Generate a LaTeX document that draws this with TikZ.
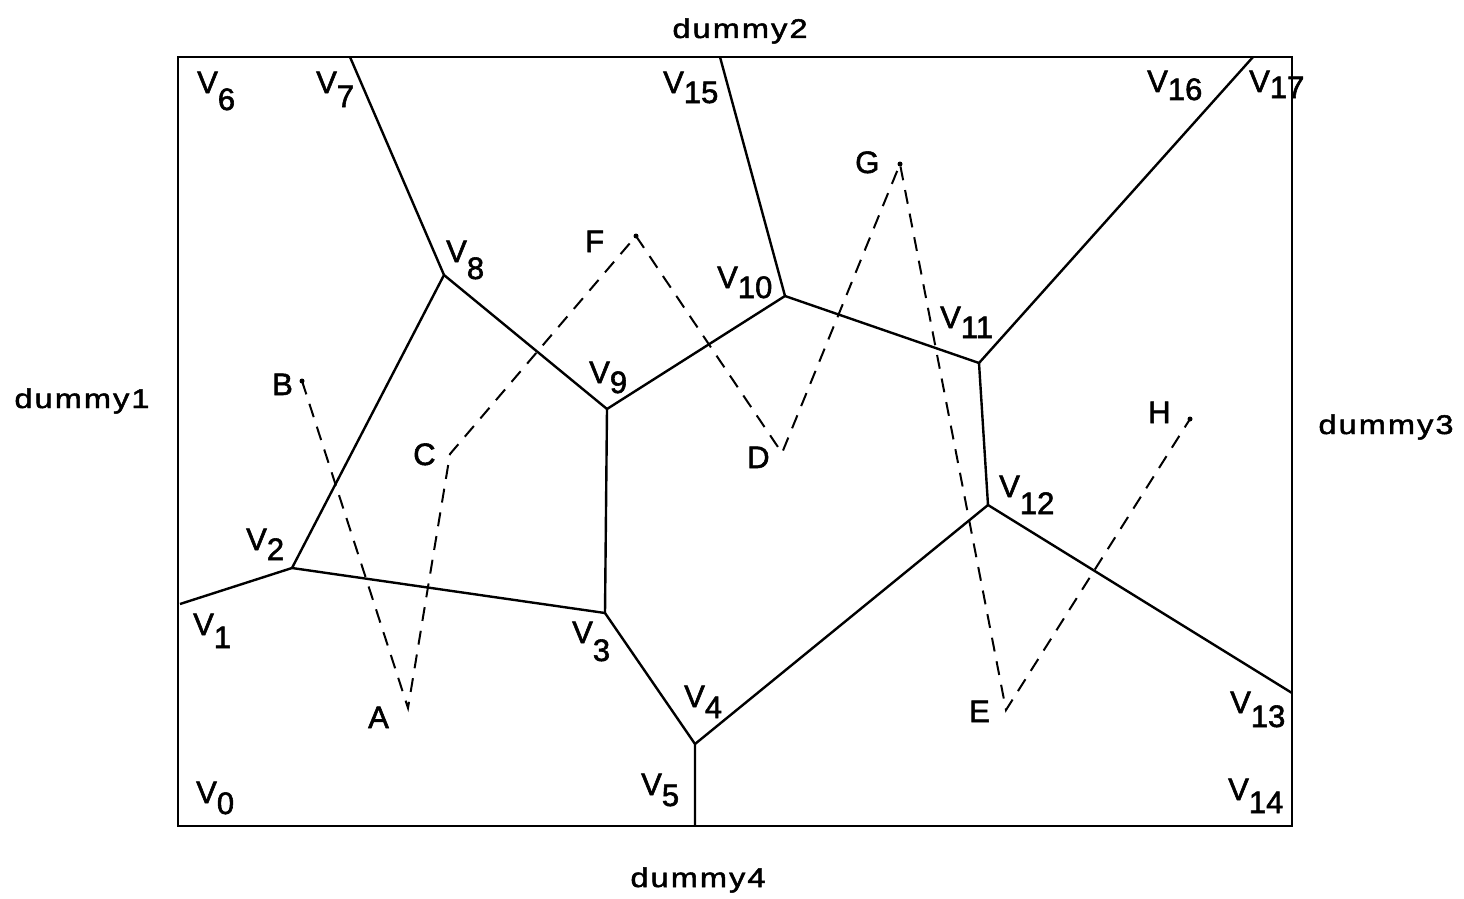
\documentclass[tikz,border=0pt]{standalone}
\usepackage{fontspec}
\setmainfont{Liberation Sans}[FakeBold=1.8]
\newfontfamily\dumfont[LetterSpace=8,FakeStretch=1.2,FakeBold=1.8]{Liberation Sans}
\newcommand\vlab[2][12]{V\raisebox{-#1pt}{#2}}
\begin{document}
\begin{tikzpicture}[x=1pt,y=-1pt,
  edge/.style={line width=2.4pt,line join=round},
  frame/.style={line width=2.2pt},
  dashline/.style={line width=2pt,dash pattern=on 14pt off 10pt},
  vtext/.style={anchor=base west,inner sep=0pt,font=\fontsize{31}{36}\selectfont},
  ptext/.style={anchor=base west,inner sep=0pt,font=\fontsize{31}{36}\selectfont},
  dtext/.style={anchor=base,inner sep=0pt,font=\dumfont\fontsize{27}{30}\selectfont},
  pdot/.style={fill=black,circle,inner sep=0pt,minimum size=5pt}]
\useasboundingbox (0,0) rectangle (1464,899);
% frame
\draw[frame] (178,57) rectangle (1292,826);
% Voronoi vertices
\coordinate (v1) at (180,604);
\coordinate (v2) at (292,568);
\coordinate (v3) at (605,613);
\coordinate (v4) at (695,744);
\coordinate (v5) at (695,826);
\coordinate (v7) at (350,57);
\coordinate (v8) at (444,275);
\coordinate (v9) at (607,409);
\coordinate (v10) at (785,296);
\coordinate (v11) at (979,363);
\coordinate (v12) at (988,505);
\coordinate (v13) at (1292,693);
\coordinate (v15) at (720,57);
\coordinate (v16) at (1253,57);
% edges
\draw[edge] (v1) -- (v2) -- (v3) -- (v9) -- (v8) -- (v7);
\draw[edge] (v2) -- (v8);
\draw[edge] (v3) -- (v4) -- (v5);
\draw[edge] (v4) -- (v12) -- (v13);
\draw[edge] (v12) -- (v11) -- (v16);
\draw[edge] (v11) -- (v10) -- (v15);
\draw[edge] (v10) -- (v9);
% sites
\coordinate (A) at (408,708);
\coordinate (B) at (302,381);
\coordinate (C) at (450,454);
\coordinate (D) at (782,453);
\coordinate (E) at (1006,710);
\coordinate (F) at (636,236);
\coordinate (G) at (900,164);
\coordinate (H) at (1190,419);
\draw[dashline] (B) -- (A) -- (C) -- (F) -- (D) -- (G) -- (E) -- (H);
\node[pdot] (Bd) at (B) {};
\node[pdot] (Fd) at (F) {};
\node[pdot] (Gd) at (G) {};
\node[pdot] (Hd) at (H) {};
% site labels
\node[ptext] (lA) at (368,728) {A};
\node[ptext] (lB) at (272,395) {B};
\node[ptext] (lC) at (413,465) {C};
\node[ptext] (lD) at (747,468) {D};
\node[ptext] (lE) at (969,722) {E};
\node[ptext] (lF) at (585,252) {F};
\node[ptext] (lG) at (855,173) {G};
\node[ptext] (lH) at (1148,423) {H};
% vertex labels
\node[vtext] (l0) at (196,803) {\vlab[11]{0}};
\node[vtext] (l1) at (193,635) {\vlab[13]{1}};
\node[vtext] (l2) at (246,550) {\vlab[10]{2}};
\node[vtext] (l3) at (572,643) {\vlab[18]{3}};
\node[vtext] (l4) at (684,707) {\vlab[11]{4}};
\node[vtext] (l5) at (641,795) {\vlab[11]{5}};
\node[vtext] (l6) at (197,93) {\vlab[17]{6}};
\node[vtext] (l7) at (316,93) {\vlab[14]{7}};
\node[vtext] (l8) at (446,262) {\vlab[17]{8}};
\node[vtext] (l9) at (589,383) {\vlab[10]{9}};
\node[vtext] (l10) at (717,288) {\vlab[10]{10}};
\node[vtext] (l11) at (940,328) {\vlab[10]{11}};
\node[vtext] (l12) at (999,497) {\vlab[17]{12}};
\node[vtext] (l13) at (1230,713) {\vlab[14]{13}};
\node[vtext] (l14) at (1228,800) {\vlab[13]{14}};
\node[vtext] (l15) at (663,93) {\vlab[10]{15}};
\node[vtext] (l16) at (1147,92) {\vlab[8]{16}};
\node[vtext] (l17) at (1249,92) {\vlab[6]{17}};
% dummy labels
\node[dtext] (d1) at (82,408) {dummy1};
\node[dtext] (d2) at (740,38) {dummy2};
\node[dtext] (d3) at (1386,434) {dummy3};
\node[dtext] (d4) at (698,887) {dummy4};
\end{tikzpicture}
\end{document}
